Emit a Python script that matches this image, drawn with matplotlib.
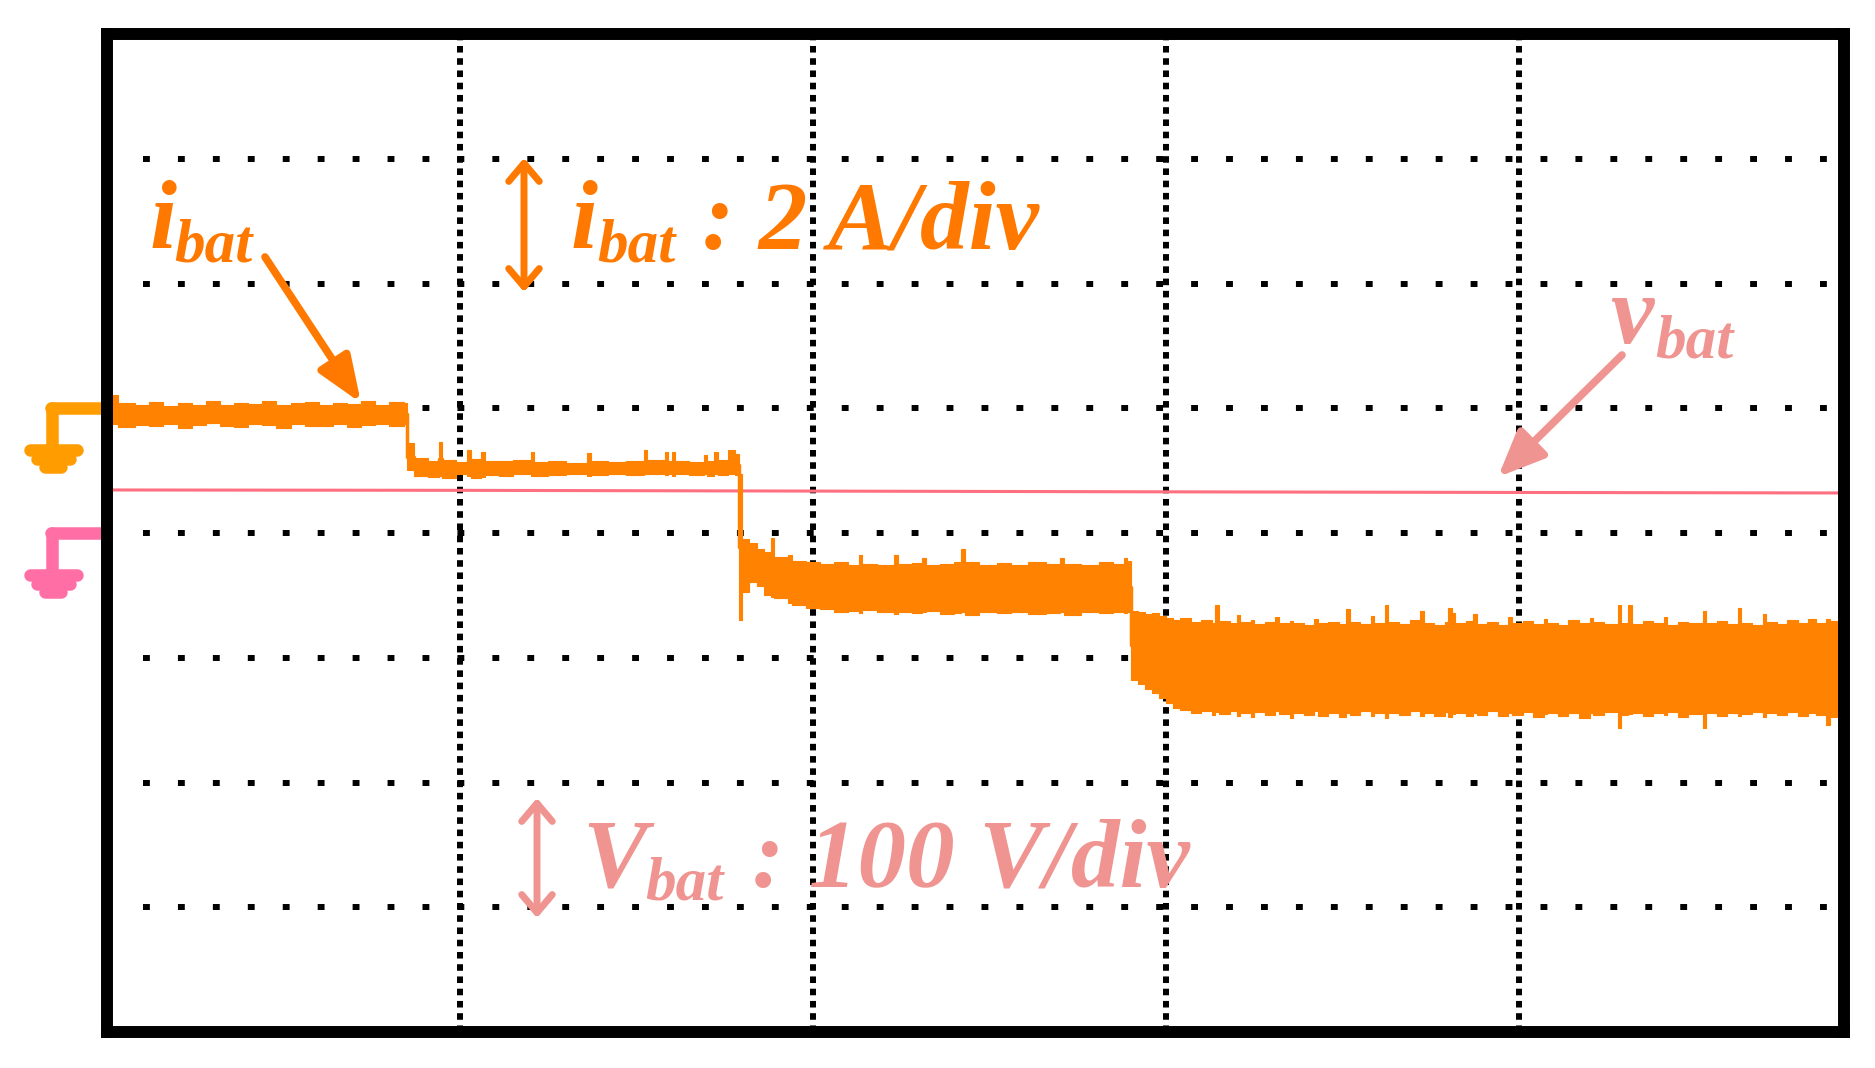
import numpy as np
import matplotlib
matplotlib.use('Agg')
import matplotlib.pyplot as plt

# 通道设置
i_scale = 2.0      # A/div
v_scale = 100.0    # V/div
i_ground = 5.0     # CH1 零点 (div)
v_ground = 4.0     # CH2 零点 (div)

# i_bat 包络 (时间单位: div, 电流单位: A), 按台阶分段读取
t_env = [0.014, 0.03, 0.08, 0.12, 0.16, 0.20, 0.24, 0.28, 0.32, 0.36, 0.40,
         0.44, 0.48, 0.52, 0.56, 0.60, 0.64, 0.68, 0.72, 0.76, 0.80, 0.84,
         # 第二段
         0.85, 0.87, 0.91, 0.94, 0.95, 0.99, 1.02, 1.03, 1.06, 1.07,
         1.11, 1.15, 1.20, 1.21, 1.25, 1.30, 1.36, 1.37, 1.42, 1.47,
         1.52, 1.53, 1.58, 1.59, 1.60, 1.61, 1.65, 1.69, 1.70, 1.72,
         1.73, 1.76, 1.78, 1.79,
         # 第三段
         1.80, 1.82, 1.84, 1.86, 1.88, 1.89, 1.93, 1.94, 1.98, 2.02,
         2.06, 2.10, 2.13, 2.14, 2.18, 2.23, 2.24, 2.28, 2.31, 2.32,
         2.36, 2.40, 2.42, 2.43, 2.47, 2.52, 2.56, 2.61, 2.66, 2.70,
         2.71, 2.76, 2.81, 2.85, 2.88, 2.89,
         # 第四段
         2.90, 2.92, 2.94, 2.96, 2.98, 3.00, 3.02, 3.04, 3.07, 3.10,
         3.13, 3.14, 3.15, 3.18, 3.20, 3.21, 3.24, 3.25, 3.28, 3.31,
         3.32, 3.35, 3.36, 3.39, 3.42, 3.43, 3.46, 3.49, 3.51, 3.52,
         3.55, 3.58, 3.59, 3.62, 3.63, 3.66, 3.69, 3.72, 3.73, 3.76,
         3.79, 3.80, 3.81, 3.82, 3.85, 3.87, 3.88, 3.91, 3.94, 3.97,
         3.98, 4.01, 4.04, 4.07, 4.08, 4.11, 4.14, 4.17, 4.20, 4.21,
         4.24, 4.28, 4.29, 4.31, 4.32, 4.35, 4.38, 4.41, 4.42, 4.45,
         4.48, 4.52, 4.53, 4.56, 4.59, 4.62, 4.63, 4.66, 4.69, 4.70,
         4.73, 4.76, 4.79, 4.82, 4.84, 4.87, 4.88, 4.90]
i_hi = [0.21, 0.08, 0.05, 0.10, 0.04, 0.08, 0.06, 0.11, 0.05, 0.09, 0.07,
        0.12, 0.06, 0.08, 0.10, 0.05, 0.09, 0.07, 0.11, 0.06, 0.10, 0.08,
        -0.56, -0.80, -0.84, -0.54, -0.83, -0.86, -0.67, -0.82, -0.70, -0.84,
        -0.85, -0.83, -0.70, -0.86, -0.84, -0.87, -0.71, -0.85, -0.86, -0.84,
        -0.67, -0.83, -0.70, -0.85, -0.70, -0.84, -0.86, -0.75, -0.84, -0.70,
        -0.83, -0.67, -0.74, -1.05,
        -2.10, -2.16, -2.25, -2.30, -2.08, -2.38, -2.35, -2.45, -2.47, -2.50,
        -2.46, -2.51, -2.36, -2.49, -2.52, -2.36, -2.50, -2.48, -2.40, -2.52,
        -2.49, -2.47, -2.26, -2.46, -2.52, -2.48, -2.51, -2.47, -2.50, -2.40,
        -2.49, -2.51, -2.47, -2.50, -2.40, -2.45,
        -3.25, -3.27, -3.30, -3.28, -3.33, -3.37, -3.40, -3.36, -3.42, -3.39,
        -3.44, -3.15, -3.41, -3.45, -3.32, -3.43, -3.40, -3.46, -3.42, -3.35,
        -3.45, -3.41, -3.44, -3.47, -3.38, -3.44, -3.42, -3.46, -3.22, -3.43,
        -3.46, -3.33, -3.44, -3.15, -3.42, -3.46, -3.40, -3.25, -3.44, -3.47,
        -3.42, -3.20, -3.28, -3.45, -3.41, -3.30, -3.46, -3.42, -3.47, -3.35,
        -3.44, -3.41, -3.46, -3.38, -3.44, -3.47, -3.40, -3.45, -3.36, -3.43,
        -3.46, -3.15, -3.44, -3.15, -3.46, -3.41, -3.45, -3.35, -3.47, -3.42,
        -3.44, -3.25, -3.45, -3.41, -3.46, -3.20, -3.44, -3.47, -3.30, -3.43,
        -3.46, -3.40, -3.44, -3.38, -3.45, -3.38, -3.41, -3.41]
i_lo = [-0.25, -0.30, -0.27, -0.29, -0.25, -0.32, -0.27, -0.24, -0.28, -0.30, -0.26,
        -0.27, -0.31, -0.25, -0.28, -0.29, -0.26, -0.30, -0.27, -0.25, -0.29, -0.26,
        -0.99, -1.08, -1.10, -1.08, -1.12, -1.06, -1.09, -1.12, -1.10, -1.07,
        -1.09, -1.06, -1.08, -1.09, -1.07, -1.06, -1.08, -1.07, -1.05, -1.07,
        -1.06, -1.06, -1.07, -1.06, -1.08, -1.06, -1.07, -1.06, -1.08, -1.06,
        -1.07, -1.05, -1.07, -3.39,
        -2.95, -2.78, -2.85, -3.00, -3.02, -3.05, -3.12, -3.15, -3.20, -3.22,
        -3.26, -3.25, -3.28, -3.24, -3.27, -3.30, -3.26, -3.29, -3.27, -3.25,
        -3.30, -3.28, -3.26, -3.31, -3.27, -3.29, -3.26, -3.30, -3.28, -3.27,
        -3.31, -3.27, -3.29, -3.26, -3.28, -3.27,
        -4.35, -4.42, -4.50, -4.56, -4.64, -4.72, -4.80, -4.84, -4.88, -4.85,
        -4.91, -4.87, -4.90, -4.86, -4.93, -4.89, -4.95, -4.87, -4.91, -4.85,
        -4.90, -4.97, -4.88, -4.92, -4.86, -4.93, -4.89, -4.95, -4.88, -4.91,
        -4.86, -4.93, -4.89, -4.97, -4.88, -4.92, -4.86, -4.94, -4.89, -4.93,
        -4.87, -4.95, -4.90, -4.88, -4.93, -4.89, -4.91, -4.86, -4.94, -4.89,
        -4.92, -4.87, -4.95, -4.90, -4.88, -4.93, -4.89, -4.96, -4.88, -4.91,
        -4.87, -5.13, -4.92, -4.90, -4.88, -4.94, -4.89, -4.92, -4.87, -4.95,
        -4.90, -5.13, -4.88, -4.93, -4.89, -4.94, -4.90, -4.87, -4.95, -4.89,
        -4.92, -4.87, -4.94, -4.89, -4.92, -5.08, -4.95, -4.95]
assert len(t_env) == len(i_hi) == len(i_lo)

# v_bat (V)
t_v = [0.014, 1.0, 2.0, 3.0, 4.0, 4.90]
v_bat = [34.5, 34.2, 33.6, 33.0, 32.5, 32.1]

# 颜色
c_trace = '#FF8300'
c_orange = '#FF7800'
c_gnd1 = '#FF9C00'
c_vline = '#FF6F80'
c_pink = '#EF9490'
c_gnd2 = '#FF6FA6'

# 画布 (像素) 与屏幕边框
W, H = 1875, 1068
x0, x1, y0, y1 = 107, 1844, 34, 1032
px_x = 353.0
px_y = (y1 - y0) / 8.0


def P(x, y):
    """像素坐标 -> 屏幕格坐标"""
    return ((x - x0) / px_x, (y1 - y) / px_y)


fig = plt.figure(figsize=(W / 100, H / 100), dpi=100)
ax = fig.add_axes([x0 / W, 1 - y1 / H, (x1 - x0) / W, (y1 - y0) / H])
ax.set_xlim(0, (x1 - x0) / px_x)
ax.set_ylim(0, 8)
ax.set_xticks([])
ax.set_yticks([])
for sp in ax.spines.values():
    sp.set_linewidth(8.6)
    sp.set_color('black')
    sp.set_capstyle('projecting')
    sp.set_zorder(10)

# 网格 (点线)
for k in range(1, 8):
    ax.axhline(k, xmin=0.021, xmax=1, color='black', lw=4.3,
               dashes=(1.15, 4.7), zorder=1)
for k in range(1, 5):
    ax.axvline(k, color='black', lw=4.3, dashes=(1.1, 0.95), zorder=1)

# v_bat 波形
tv = np.array(t_v)
ax.plot(tv, v_ground + np.array(v_bat) / v_scale, color=c_vline, lw=2.2, zorder=3)

# i_bat 波形
t = np.array(t_env)
hi = i_ground + np.array(i_hi) / i_scale
lo = i_ground + np.array(i_lo) / i_scale
ax.fill_between(t, lo, hi, step='post', color=c_trace, lw=0.8, zorder=4)
ax.plot(t, (hi + lo) / 2, drawstyle='steps-post', color=c_trace, lw=2.5, zorder=4)


# 接地符号
def ground(level, color):
    def Q(dx, dy):
        return (dx / px_x, level + dy / px_y)
    segs = [((-56, 0), (-4, 0)), ((-55, 0), (-55, -38)),
            ((-77, -42), (-30, -42)), ((-70, -51), (-37, -51)), ((-62, -59), (-46, -59))]
    for a, b in segs:
        pa, pb = Q(*a), Q(*b)
        ax.plot([pa[0], pb[0]], [pa[1], pb[1]], color=color, lw=9,
                solid_capstyle='round', clip_on=False, zorder=5)


ground(i_ground, c_gnd1)
ground(v_ground, c_gnd2)

# 文字
big, small = 70, 44


def label(s, x, y, size, color):
    ax.text(*P(x, y), s, fontsize=size, color=color, ha='left', va='baseline',
            family='Liberation Serif', style='italic', weight='bold', zorder=12)


label('i', 150, 248, big, c_orange)
label('bat', 174, 261, small, c_orange)
label('i', 571, 248, big, c_orange)
label('bat', 597, 261, small, c_orange)
label(': 2 A/div', 702, 248, big, c_orange)
label('V', 582, 887, big, c_pink)
label('bat', 645, 899, small, c_pink)
label(': 100 V/div', 752, 887, big, c_pink)
label('v', 1610, 343, big, c_pink)
label('bat', 1655, 358, small, c_pink)


# 箭头
def arrow(tail, tip, color, style, lw):
    ax.annotate('', xy=P(*tip), xytext=P(*tail), zorder=12,
                arrowprops=dict(arrowstyle=style, color=color, lw=lw,
                                shrinkA=0, shrinkB=0, mutation_scale=1,
                                capstyle='round', joinstyle='round'))


arrow((265, 257), (361, 403), c_orange, '-|>,head_length=28,head_width=11', 5.5)
arrow((1622, 355), (1498, 477), c_pink, '-|>,head_length=28,head_width=12', 5.5)
arrow((524, 292), (524, 158), c_orange, '<->,head_length=13,head_width=11', 5)
arrow((537, 918), (537, 798), c_pink, '<->,head_length=13,head_width=11', 5)

fig.savefig('out.png', dpi=100, facecolor='white')
